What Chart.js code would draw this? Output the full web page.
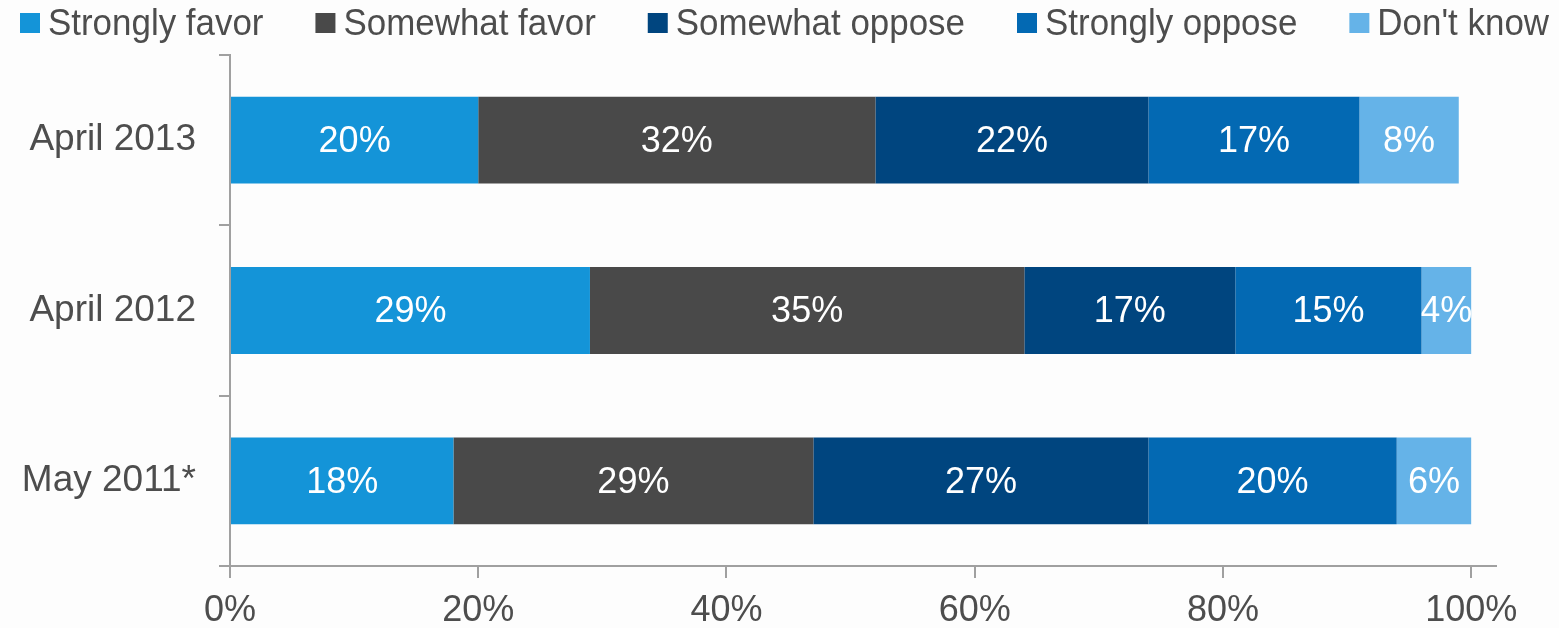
<!DOCTYPE html>
<html>
<head>
<meta charset="utf-8">
<script src="https://cdn.jsdelivr.net/npm/chart.js@4"></script>
<style>
  html, body { margin: 0; padding: 0; background: #fdfdfd; }
  #wrap { width: 1559px; height: 628px; }
</style>
</head>
<body>
<div id="wrap"><canvas id="chart"></canvas></div>
<script>
// Survey waves and answer shares (%)
const waves = ["April 2013", "April 2012", "May 2011*"];
const stronglyFavor = [20, 29, 18];
const somewhatFavor = [32, 35, 29];
const somewhatOppose = [22, 17, 27];
const stronglyOppose = [17, 15, 20];
const dontKnow = [8, 4, 6];
const xTicks = [0, 20, 40, 60, 80, 100];

const AXIS = "#a0a0a0";
const TEXT = "#4d4d4d";
const FONT = "'Liberation Sans', Arial, sans-serif";

// white percentage labels in the middle of each segment
const segmentLabels = {
    id: "segmentLabels",
    afterDatasetsDraw(chart) {
        const ctx = chart.ctx;
        ctx.save();
        ctx.font = "36px " + FONT;
        ctx.fillStyle = "#ffffff";
        ctx.textAlign = "center";
        ctx.textBaseline = "middle";
        chart.data.datasets.forEach((ds, i) => {
            chart.getDatasetMeta(i).data.forEach((bar, j) => {
                const left = Math.min(bar.x, bar.base);
                const right = Math.max(bar.x, bar.base);
                ctx.save();
                ctx.beginPath();
                ctx.rect(left, bar.y - bar.height / 2, right - left, bar.height);
                ctx.clip();
                ctx.fillText(ds.data[j] + "%", (left + right) / 2, bar.y + 2);
                ctx.restore();
            });
        });
        ctx.restore();
    }
};

// one-row legend across the top, slightly condensed text
const topLegend = {
    id: "topLegend",
    afterDraw(chart) {
        const ctx = chart.ctx;
        const squeeze = 0.97;
        const box = 20, gapText = 8, gapItem = 52;
        ctx.save();
        ctx.font = "36px " + FONT;
        ctx.textBaseline = "alphabetic";
        ctx.textAlign = "left";
        let x = 20;
        chart.data.datasets.forEach(ds => {
            ctx.fillStyle = ds.backgroundColor;
            ctx.fillRect(x, 13, box, box);
            const tx = x + box + gapText;
            ctx.save();
            ctx.translate(tx, 35);
            ctx.scale(squeeze, 1);
            ctx.fillStyle = TEXT;
            ctx.fillText(ds.label, 0, 0);
            ctx.restore();
            x = tx + ctx.measureText(ds.label).width * squeeze + gapItem;
        });
        ctx.restore();
    }
};

new Chart(document.getElementById("chart"), {
    type: "bar",
    data: {
        labels: waves,
        datasets: [
            { label: "Strongly favor", data: stronglyFavor, backgroundColor: "#1494d8" },
            { label: "Somewhat favor", data: somewhatFavor, backgroundColor: "#494949" },
            { label: "Somewhat oppose", data: somewhatOppose, backgroundColor: "#00457f" },
            { label: "Strongly oppose", data: stronglyOppose, backgroundColor: "#0369b3" },
            { label: "Don't know", data: dontKnow, backgroundColor: "#65b3e8" }
        ]
    },
    options: {
        indexAxis: "y",
        responsive: true,
        maintainAspectRatio: false,
        animation: false,
        barPercentage: 0.85,
        categoryPercentage: 0.6,
        layout: { padding: { top: 55, right: 63, bottom: 0, left: 0 } },
        plugins: {
            tooltip: { enabled: false },
            legend: { display: false }
        },
        scales: {
            x: {
                stacked: true,
                min: 0,
                max: 102,
                afterBuildTicks(scale) {
                    scale.ticks = xTicks.map(v => ({ value: v }));
                },
                afterFit(scale) { scale.height = 62; },
                border: { color: AXIS, width: 2 },
                grid: { drawOnChartArea: false, color: AXIS, lineWidth: 2, tickLength: 12 },
                ticks: {
                    color: TEXT,
                    padding: 11,
                    font: { family: FONT, size: 36 },
                    callback: v => v + "%"
                }
            },
            y: {
                stacked: true,
                afterFit(scale) { scale.width = 230; },
                border: { color: AXIS, width: 2 },
                grid: { offset: true, drawOnChartArea: false, color: AXIS, lineWidth: 2, tickLength: 11 },
                ticks: {
                    color: TEXT,
                    padding: 23,
                    font: { family: FONT, size: 37 }
                }
            }
        }
    },
    plugins: [segmentLabels, topLegend]
});
</script>
</body>
</html>
